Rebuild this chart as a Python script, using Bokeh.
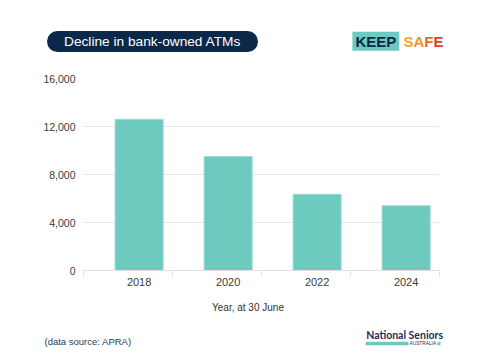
import numpy as np
from bokeh.plotting import figure
from bokeh.models import Range1d, FixedTicker, Label, ColumnDataSource
from bokeh.layouts import column
from bokeh.embed import file_html
from bokeh.resources import INLINE

years = ["2018", "2020", "2022", "2024"]
atms = [12600, 9500, 6350, 5400]
y_ticks = [0, 4000, 8000, 12000, 16000]

NAVY = "#0c2849"
TEAL = "#6ccabf"
FONT = "Liberation Sans"
W = 472


def no_align(f):
    if "frame_align" in f.properties():
        f.frame_align = False
        return 0
    return 83


def panel(height):
    f = figure(output_backend="svg", toolbar_location=None, width=W, height=height,
               min_border=0, x_range=Range1d(0, W), y_range=Range1d(0, height),
               background_fill_color="white", border_fill_color="white")
    f.outline_line_color = None
    f.axis.visible = False
    f.grid.visible = False
    return f


def lab(f, x, y, text, **kw):
    opts = dict(x=x - f.tags[0], y=y, x_units="screen", y_units="screen", text=text,
                text_font=FONT, text_align="left", text_baseline="middle")
    opts.update(kw)
    f.add_layout(Label(**opts))


# ---- header: title pill + KEEP SAFE logo
top = panel(60)
top.tags = [no_align(top)]
lab(top, 152, 19, "Decline in bank-owned ATMs", text_font_size="13.7px", text_color="white",
    text_align="center", background_fill_color=NAVY, padding=(17, 3), border_radius=11)
lab(top, 375.3, 19.3, "KEEP", text_font_size="15px", text_font_style="bold", text_color=NAVY,
    text_align="center", background_fill_color=TEAL, padding=(3, 1))
for ch, xx, col in zip("SAFE", [403, 413, 423.8, 433], ["#f6a41f", "#f4912a", "#ee6a2c", "#e43a2f"]):
    lab(top, xx, 19, ch, text_font_size="15px", text_font_style="bold", text_color=col)

# ---- main chart
idx = np.arange(len(years))
src = ColumnDataSource(dict(x=idx + 0.625, top=atms))

p = figure(output_backend="svg", toolbar_location=None,
           frame_width=356, frame_height=192,
           min_border_left=83, min_border_right=33,
           min_border_top=18, min_border_bottom=30,
           x_range=Range1d(0, len(years)), y_range=Range1d(0, 16000),
           background_fill_color="white", border_fill_color="white")
p.outline_line_color = None
no_align(p)

p.vbar(x="x", top="top", bottom=0, width=0.54, source=src,
       fill_color=TEAL, line_color="#9edbd3", line_width=1)

p.xaxis.ticker = FixedTicker(ticks=list(idx + 0.625), minor_ticks=list(range(len(years) + 1)))
p.xaxis.major_label_overrides = {float(i + 0.625): y for i, y in zip(idx, years)}
p.xaxis.major_tick_line_color = None
p.xaxis.major_tick_out = 0
p.xaxis.major_tick_in = 0
p.xaxis.minor_tick_line_color = "#e2e2e2"
p.xaxis.minor_tick_in = 0
p.xaxis.minor_tick_out = 6
p.xaxis.axis_line_color = "#e2e2e2"
p.xaxis.major_label_standoff = 1
p.xaxis.major_label_text_font = FONT
p.xaxis.major_label_text_font_size = "11px"
p.xaxis.major_label_text_color = "#3a3a3a"

p.yaxis.ticker = FixedTicker(ticks=y_ticks)
p.yaxis.major_label_overrides = {t: f"{t:,}" for t in y_ticks}
p.yaxis.axis_line_color = None
p.yaxis.major_tick_line_color = None
p.yaxis.major_tick_out = 0
p.yaxis.major_tick_in = 0
p.yaxis.minor_tick_line_color = None
p.yaxis.major_label_standoff = 8
p.yaxis.major_label_text_font = FONT
p.yaxis.major_label_text_font_size = "10.5px"
p.yaxis.major_label_text_color = "#3a3a3a"

p.xgrid.grid_line_color = None
p.ygrid.grid_line_color = "#e6e6e6"
p.ygrid.ticker = FixedTicker(ticks=y_ticks)

# ---- footer: axis title, source, National Seniors logo
bot = panel(52)
bot.tags = [no_align(bot)]
lab(bot, 247.5, 45, "Year, at 30 June", text_font_size="10px", text_color="#333333",
    text_align="center")
lab(bot, 44, 11, "(data source: APRA)", text_font_size="9.5px", text_color="#1f3a5f")
lab(bot, 365.7, 17.7, "National Seniors", text_font="Lato", text_font_size="10.5px",
    text_font_style="bold", text_color="#1b2f55")
lab(bot, 386.5, 9, " ", text_font_size="3px", text_align="center",
    background_fill_color=TEAL, padding=(21, 0))
lab(bot, 438.5, 9, " ", text_font_size="3px", text_align="center",
    background_fill_color=TEAL, padding=(1, 0))
lab(bot, 409, 9, "AUSTRALIA", text_font_size="4.8px", text_color="#1b2f55")

with open("out.html", "w") as fh:
    fh.write(file_html(column(top, p, bot), INLINE))
